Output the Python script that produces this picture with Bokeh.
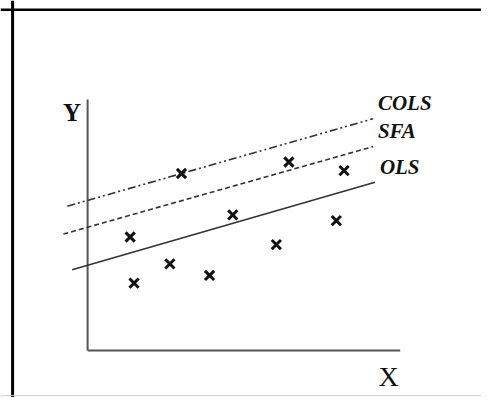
from bokeh.plotting import figure
from bokeh.models import Range1d, Span, Label
from bokeh.embed import file_html
from bokeh.resources import INLINE

# observations (arbitrary units, origin at the axes corner)
obs_x = [4.4, 4.8, 8.5, 9.7, 12.6, 15.0, 19.5, 20.8, 25.7, 26.5]
obs_y = [11.8, 7.0, 9.0, 18.4, 7.8, 14.1, 11.0, 19.6, 13.5, 18.7]

# frontier / regression lines: names, start and end points
line_names = ["COLS", "SFA", "OLS"]
line_x0 = [-2.1, -2.5, -1.6]
line_y0 = [15.0, 12.1, 8.4]
line_x1 = [29.5, 29.5, 29.7]
line_y1 = [24.1, 21.2, 17.5]

# axis extents
x_axis_end = 32.3
y_axis_end = 26.1

W, H = 481, 397
p = figure(width=W, height=H, output_backend="svg", toolbar_location=None,
           x_range=Range1d(-9.0, 40.7), y_range=Range1d(-4.9, 36.4),
           min_border=0, outline_line_color=None)
p.xaxis.visible = False
p.yaxis.visible = False
p.grid.visible = False
p.background_fill_color = "white"

# surrounding box
p.add_layout(Span(location=-7.75, dimension="height", line_color="black", line_width=3))
p.add_layout(Span(location=35.45, dimension="width", line_color="black", line_width=2.5))
p.add_layout(Span(location=-4.7, dimension="width", line_color="#cccccc", line_width=1))

# axes
p.line([0, 0], [0, y_axis_end], line_color="#555555", line_width=2)
p.line([0, x_axis_end], [0, 0], line_color="#555555", line_width=2)

dashes = {"COLS": "8 3 2 3 2 3", "SFA": "5 3", "OLS": "solid"}
for n, x0, y0, x1, y1 in zip(line_names, line_x0, line_y0, line_x1, line_y1):
    p.line([x0, x1], [y0, y1], line_color="#333333", line_width=1.6, line_dash=dashes[n])
    p.add_layout(Label(x=x1 + 0.5, y=y1 + 1.6, text=n, text_font="Liberation Serif",
                       text_font_style="bold italic", text_font_size="21px",
                       text_baseline="middle", text_align="left", text_color="#111111"))

p.scatter(obs_x, obs_y, marker="x", size=13, line_width=3, line_color="#111111")

p.add_layout(Label(x=-1.6, y=y_axis_end - 1.3, text="Y", text_font="Liberation Serif",
                   text_font_style="bold", text_font_size="25px", text_align="center",
                   text_baseline="middle", text_color="#111111"))
p.add_layout(Label(x=x_axis_end - 1.2, y=-2.7, text="X", text_font="Liberation Serif",
                   text_font_size="28px", text_align="center",
                   text_baseline="middle", text_color="#111111"))

open("out.html", "w").write(file_html(p, INLINE))
